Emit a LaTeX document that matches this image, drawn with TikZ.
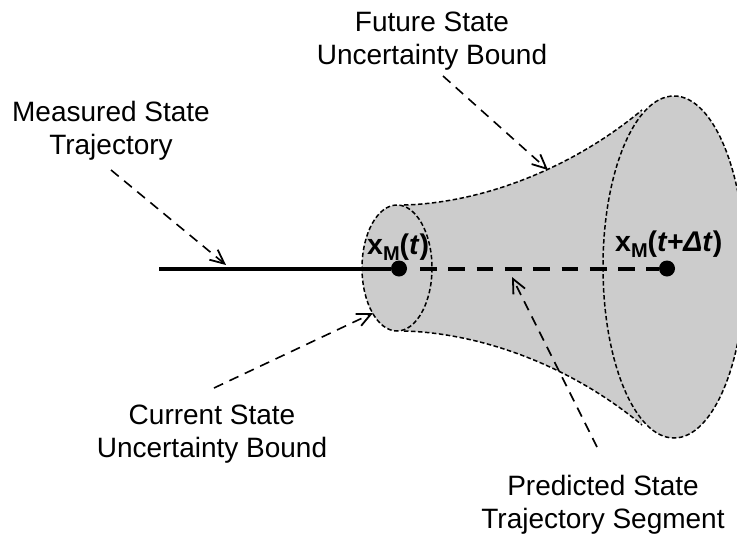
\documentclass[tikz,border=0pt]{standalone}
\usepackage{fontspec}
\setmainfont{Liberation Sans}
\usetikzlibrary{arrows.meta}
\tikzset{
  outline/.style={black,line width=1.5pt,dash pattern=on 4.5pt off 2.5pt},
  pointer/.style={black,line width=1.6pt,dash pattern=on 10pt off 7pt,-{Straight Barb[length=14pt,width=13pt,line width=1.8pt]}},
  lbl/.style={align=center,font=\fontsize{28}{32.5}\selectfont,inner sep=0pt},
  state/.style={circle,fill=black,inner sep=0pt,minimum size=16pt},
  math/.style={font=\fontsize{28.5}{32}\selectfont\bfseries,inner sep=0pt}
}
\begin{document}
\begin{tikzpicture}[x=1pt,y=-1pt]
\useasboundingbox (0,0) rectangle (737,536);
\clip (0,0) rectangle (737,536);
% body
\fill[black!20] (404,205) .. controls (480,203) and (570,170) .. (642,110)
  -- (642,425) .. controls (570,365) and (480,333) .. (404,331) -- cycle;
\fill[black!20] (397,268) ellipse [x radius=35,y radius=63];
\fill[black!20] (674,267) ellipse [x radius=71,y radius=171];
\draw[outline] (404,205) .. controls (480,203) and (570,170) .. (642,110);
\draw[outline] (404,331) .. controls (480,333) and (570,365) .. (642,425);
\draw[outline] (397,268) ellipse [x radius=35,y radius=63];
\draw[outline] (674,267) ellipse [x radius=71,y radius=171];
% states
\coordinate (start) at (159,268.5);
\node[state] (now) at (399,268.5) {};
\node[state] (later) at (667,268.5) {};
\coordinate (dashstart) at (420,268.5);
\draw[line width=4pt] (start) -- (now);
\draw[line width=4pt,dash pattern=on 16.7pt off 11.6pt] (dashstart) -- (later);
\node[math,anchor=base west] (nowlabel) at (367,254) {x\raisebox{-6pt}{\fontsize{20}{20}\selectfont M}(\textit{t})};
\node[math,anchor=base west] (laterlabel) at (615,251) {x\raisebox{-6pt}{\fontsize{20}{20}\selectfont M}(\textit{t+Δt})};
% labels
\node[lbl] (measured) at (111,131) {Measured State\\Trajectory};
\node[lbl] (future) at (432,41) {Future State\\Uncertainty Bound};
\node[lbl] (current) at (212,434) {Current State\\Uncertainty Bound};
\node[lbl] (predicted) at (603,505) {Predicted State\\Trajectory Segment};
% pointers
\coordinate (m1) at (111,170); \coordinate (m2) at (226,265);
\coordinate (f1) at (443,76); \coordinate (f2) at (548,170);
\coordinate (c1) at (214,388); \coordinate (c2) at (373,313);
\coordinate (p1) at (597,447); \coordinate (p2) at (512,277);
\draw[pointer] (m1) -- (m2);
\draw[pointer] (f1) -- (f2);
\draw[pointer] (c1) -- (c2);
\draw[pointer] (p1) -- (p2);
\end{tikzpicture}
\end{document}
